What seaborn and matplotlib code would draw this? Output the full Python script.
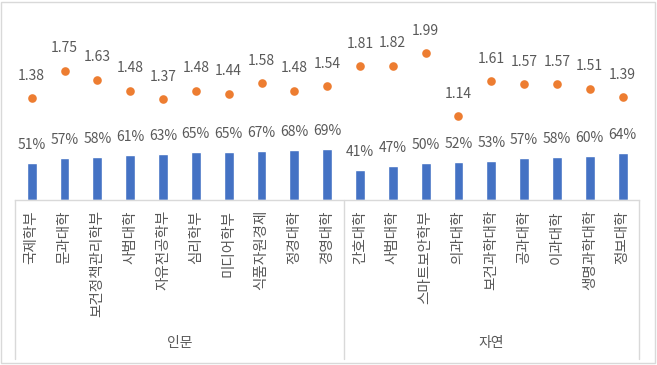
"""Ratio bars + competition dots by college, grouped by 인문 / 자연."""

import matplotlib
matplotlib.use("Agg")
import matplotlib.pyplot as plt
import matplotlib.transforms as mtrans
from matplotlib.patches import Rectangle
import pandas as pd
import seaborn as sns

groups = ["인문", "자연"]
humanities = ["국제학부", "문과대학", "보건정책관리학부", "사범대학", "자유전공학부",
              "심리학부", "미디어학부", "식품자원경제", "정경대학", "경영대학"]
sciences = ["간호대학", "사범대학", "스마트보안학부", "의과대학", "보건과학대학",
            "공과대학", "이과대학", "생명과학대학", "정보대학"]
hum_rate = [0.51, 0.57, 0.58, 0.61, 0.63, 0.65, 0.65, 0.67, 0.68, 0.69]
sci_rate = [0.41, 0.47, 0.50, 0.52, 0.53, 0.57, 0.58, 0.60, 0.64]
hum_ratio = [1.38, 1.75, 1.63, 1.48, 1.37, 1.48, 1.44, 1.58, 1.48, 1.54]
sci_ratio = [1.81, 1.82, 1.99, 1.14, 1.61, 1.57, 1.57, 1.51, 1.39]

BLUE = "#4472C4"
ORANGE = "#ED7D31"
TXT = "#595959"
LINE = "#D9D9D9"

sns.set_theme(style="white")
plt.rcParams["font.family"] = ["Noto Sans CJK KR", "DejaVu Sans"]

df = pd.DataFrame({
    "group": [groups[0]] * len(humanities) + [groups[1]] * len(sciences),
    "name": humanities + sciences,
    "rate": hum_rate + sci_rate,
    "ratio": hum_ratio + sci_ratio,
})
df["key"] = df["group"] + "|" + df["name"]
order = list(df["key"])

fig = plt.figure(figsize=(6.57, 3.65), dpi=100)
ax = fig.add_axes([0.0233, 0.4507, 0.9493, 0.508])

sns.barplot(data=df, x="key", y="rate", order=order, color=BLUE,
            width=0.3, saturation=1, ax=ax)
sns.stripplot(data=df, x="key", y="ratio", order=order, color=ORANGE,
              jitter=False, size=6.2, linewidth=0, ax=ax, zorder=3)

for i, (r, q) in enumerate(zip(df["rate"], df["ratio"])):
    ax.annotate(f"{r:.0%}", (i, r), xytext=(0, 8), textcoords="offset points",
                ha="center", va="bottom", fontsize=10, color=TXT)
    ax.annotate(f"{q:.2f}", (i, q), xytext=(0, 11), textcoords="offset points",
                ha="center", va="bottom", fontsize=10, color=TXT)

ax.set_xlim(-0.5, len(df) - 0.5)
ax.set_ylim(0, 2.5)
ax.set_yticks([])
ax.set_xlabel(""); ax.set_ylabel("")
ax.set_xticks(range(len(df)))
ax.set_xticklabels(df["name"], rotation=90, fontsize=10.5, color=TXT)
ax.tick_params(axis="x", length=0, pad=7)
for s in ["top", "right", "left"]:
    ax.spines[s].set_visible(False)
ax.spines["bottom"].set_color(LINE)
ax.spines["bottom"].set_linewidth(1)

# two-level category axis: separators and group names
tr = mtrans.blended_transform_factory(ax.transData, ax.transAxes)
n_h = len(humanities)
for xs in [-0.5, n_h - 0.5, len(df) - 0.5]:
    ax.plot([xs, xs], [0, -0.855], transform=tr, color=LINE, lw=1,
            clip_on=False)
ax.text((n_h - 1) / 2, -0.77, groups[0], transform=tr, ha="center",
        va="center", fontsize=10, color=TXT)
ax.text(n_h + (len(sciences) - 1) / 2, -0.77, groups[1], transform=tr,
        ha="center", va="center", fontsize=10, color=TXT)

# chart area border
fig.patches.append(Rectangle((0.002, 0.005), 0.995, 0.99,
                             transform=fig.transFigure, fill=False,
                             edgecolor=LINE, lw=1))

fig.savefig("out.png", dpi=100)
plt.close(fig)
